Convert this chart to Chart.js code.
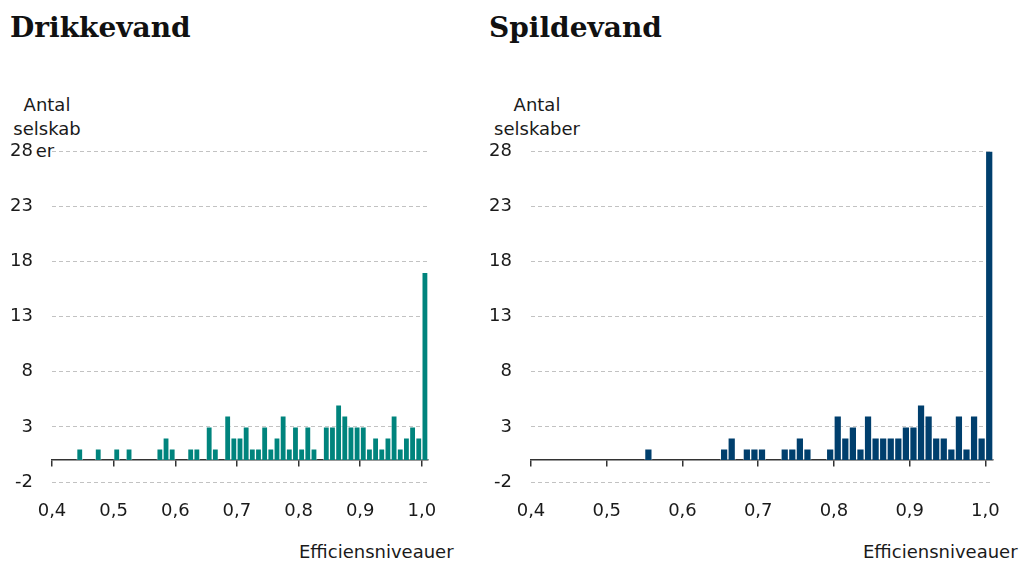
<!DOCTYPE html>
<html>
<head>
<meta charset="utf-8">
<script src="https://cdn.jsdelivr.net/npm/chart.js@4"></script>
<style>
  html, body { margin: 0; padding: 0; background: #fff; }
  body { width: 1020px; height: 562px; position: relative; overflow: hidden; font-family: "DejaVu Sans", Verdana, sans-serif; color: #1a1a1a; }
  .title { position: absolute; top: 14px; font-family: "DejaVu Serif", Georgia, serif; font-weight: bold; font-size: 28px; line-height: 28px; color: #111; }
  .ylab { position: absolute; top: 93px; width: 120px; text-align: center; font-size: 18px; line-height: 23.5px; }
  .xlab { position: absolute; top: 543px; font-size: 18px; line-height: 18px; white-space: nowrap; }
  canvas { position: absolute; top: 0; }
</style>
</head>
<body>
<div class="title" style="left:10px">Drikkevand</div>
<div class="title" style="left:489px">Spildevand</div>
<div class="ylab" style="left:-13px">Antal<br>selskab<br><span style="position:relative;left:-2px;top:-1px">er</span></div>
<div class="ylab" style="left:477px">Antal<br>selskaber</div>
<div class="xlab" style="left:299px">Efficiensniveauer</div>
<div class="xlab" style="left:863px">Efficiensniveauer</div>
<div style="position:absolute;left:0;top:0;width:470px;height:562px"><canvas id="drikke"></canvas></div>
<div style="position:absolute;left:470px;top:0;width:550px;height:562px"><canvas id="spilde"></canvas></div>
<script>
// bins (left edge of each 0.01-wide class)
const binStarts = [
  0.40, 0.41, 0.42, 0.43, 0.44, 0.45, 0.46, 0.47, 0.48, 0.49,
  0.50, 0.51, 0.52, 0.53, 0.54, 0.55, 0.56, 0.57, 0.58, 0.59,
  0.60, 0.61, 0.62, 0.63, 0.64, 0.65, 0.66, 0.67, 0.68, 0.69,
  0.70, 0.71, 0.72, 0.73, 0.74, 0.75, 0.76, 0.77, 0.78, 0.79,
  0.80, 0.81, 0.82, 0.83, 0.84, 0.85, 0.86, 0.87, 0.88, 0.89,
  0.90, 0.91, 0.92, 0.93, 0.94, 0.95, 0.96, 0.97, 0.98, 0.99,
  1.00
];
const drikkeCounts = [
  0, 0, 0, 0, 1, 0, 0, 1, 0, 0,
  1, 0, 1, 0, 0, 0, 0, 1, 2, 1,
  0, 0, 1, 1, 0, 3, 1, 0, 4, 2,
  2, 3, 1, 1, 3, 1, 2, 4, 1, 3,
  1, 3, 1, 0, 3, 3, 5, 4, 3, 3,
  3, 1, 2, 1, 2, 4, 1, 2, 3, 2,
  17
];
const spildeCounts = [
  0, 0, 0, 0, 0, 0, 0, 0, 0, 0,
  0, 0, 0, 0, 0, 1, 0, 0, 0, 0,
  0, 0, 0, 0, 0, 1, 2, 0, 1, 1,
  1, 0, 0, 1, 1, 2, 1, 0, 0, 1,
  4, 2, 3, 1, 4, 2, 2, 2, 2, 3,
  3, 5, 4, 2, 2, 1, 4, 1, 4, 2,
  28
];
const yTicks = [-2, 3, 8, 13, 18, 23, 28];
const xTicks = [0.4, 0.5, 0.6, 0.7, 0.8, 0.9, 1.0];
const xTickLabels = ["0,4", "0,5", "0,6", "0,7", "0,8", "0,9", "1,0"];
const binWidth = 0.01;

Chart.defaults.font.family = "'DejaVu Sans', Verdana, sans-serif";
Chart.defaults.color = "#1a1a1a";

function lavHistogram(id, counts, farve, yBredde, hoejrePad) {
  const ctx = document.getElementById(id).getContext("2d");
  return new Chart(ctx, {
    type: "bar",
    data: {
      datasets: [{
        data: binStarts.map((b, i) => ({ x: b + binWidth / 2, y: counts[i] })),
        backgroundColor: farve,
        borderColor: "rgba(255,255,255,0.4)",
        borderWidth: 1,
        borderSkipped: "start",
        barPercentage: 1,
        categoryPercentage: 1,
      }],
    },
    options: {
      responsive: true,
      maintainAspectRatio: false,
      animation: false,
      events: [],
      layout: { padding: { top: 151, bottom: 80, left: 0, right: hoejrePad } },
      plugins: { legend: { display: false }, tooltip: { enabled: false } },
      scales: {
        x: {
          type: "linear",
          position: { y: 0 },
          offset: false,
          min: 0.4,
          max: 1.01,
          afterBuildTicks: (s) => { s.ticks = xTicks.map((v) => ({ value: v })); },
          // tick padding should not eat horizontal space
          afterFit: (s) => { s.paddingLeft = 0; s.paddingRight = 0; },
          ticks: {
            padding: 35,
            font: { size: 18 },
            maxRotation: 0,
            callback: (v) => xTickLabels[xTicks.findIndex((t) => Math.abs(t - v) < 1e-6)],
          },
          grid: { offset: false, drawOnChartArea: false, drawTicks: true, tickLength: 6, color: "#333", lineWidth: 1.5 },
          border: { display: true, color: "#333", width: 1.5 },
        },
        y: {
          min: -2,
          max: 28,
          afterBuildTicks: (s) => { s.ticks = yTicks.map((v) => ({ value: v })); },
          afterFit: (s) => { s.width = yBredde; },
          ticks: { padding: 19, font: { size: 18 } },
          grid: { drawTicks: false, color: "#c2c2c2", lineWidth: 1 },
          border: { display: false, dash: [4, 3] },
        },
      },
    },
  });
}

lavHistogram("drikke", drikkeCounts, "#00847d", 52, 42);
lavHistogram("spilde", spildeCounts, "#003f6d", 61, 27);
</script>
</body>
</html>
